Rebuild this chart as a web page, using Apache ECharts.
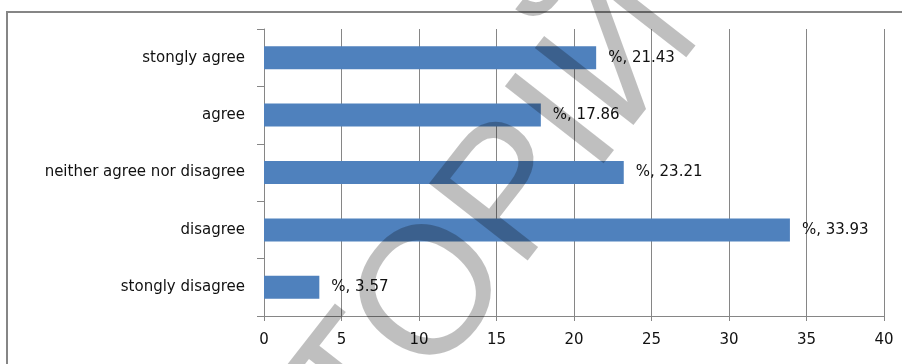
<!DOCTYPE html>
<html>
<head>
<meta charset="utf-8">
<script src="https://cdn.jsdelivr.net/npm/echarts@6/dist/echarts.min.js"></script>
<style>
html,body{margin:0;padding:0;background:#fff;}
#chart{width:902px;height:364px;}
</style>
</head>
<body>
<div id="chart"></div>
<script>
const categories = ['stongly agree', 'agree', 'neither agree nor disagree', 'disagree', 'stongly disagree'];
const values = [21.43, 17.86, 23.21, 33.93, 3.57];
const labelPrefix = '%, ';
const xMin = 0, xMax = 40, xStep = 5;
const watermarkText = 'ТОРІЙ';

const chart = echarts.init(document.getElementById('chart'), null, {renderer: 'canvas'});
const font = '"DejaVu Sans", sans-serif';
const gray = '#868686';

chart.setOption({
  animation: false,
  backgroundColor: '#ffffff',
  grid: {left: 264, right: 18, top: 29, bottom: 48, containLabel: false},
  xAxis: {
    type: 'value', min: xMin, max: xMax, interval: xStep,
    axisLine: {show: true, lineStyle: {color: gray, width: 1}},
    axisTick: {show: true, length: 5, lineStyle: {color: gray}},
    splitLine: {show: true, lineStyle: {color: gray, width: 1}},
    axisLabel: {color: '#111', fontSize: 15, fontFamily: font, margin: 17}
  },
  yAxis: {
    type: 'category', data: categories, inverse: true,
    axisLine: {show: true, lineStyle: {color: gray, width: 1}},
    axisTick: {show: true, length: 7, lineStyle: {color: gray}},
    splitLine: {show: false},
    axisLabel: {color: '#111', fontSize: 15, fontFamily: font, margin: 19}
  },
  series: [{
    type: 'bar',
    data: values,
    barWidth: 23,
    itemStyle: {color: '#4F81BD'},
    label: {
      show: true, position: 'right', distance: 12,
      color: '#111', fontSize: 15, fontFamily: font,
      formatter: p => labelPrefix + p.value.toFixed(2)
    }
  }],
  graphic: [
    {type: 'rect', silent: true, z: 0,
     shape: {x: 7, y: 12, width: 1000, height: 500},
     style: {fill: 'none', stroke: gray, lineWidth: 2}},
    {type: 'text', silent: true, z: 100,
     x: 400, y: 490, rotation: 52 * Math.PI / 180,
     style: {text: watermarkText, fontSize: 182,
             fontFamily: '"Liberation Sans", Arial, sans-serif',
             fill: 'rgba(0,0,0,0.25)', align: 'left', verticalAlign: 'bottom'}}
  ]
});
</script>
</body>
</html>
